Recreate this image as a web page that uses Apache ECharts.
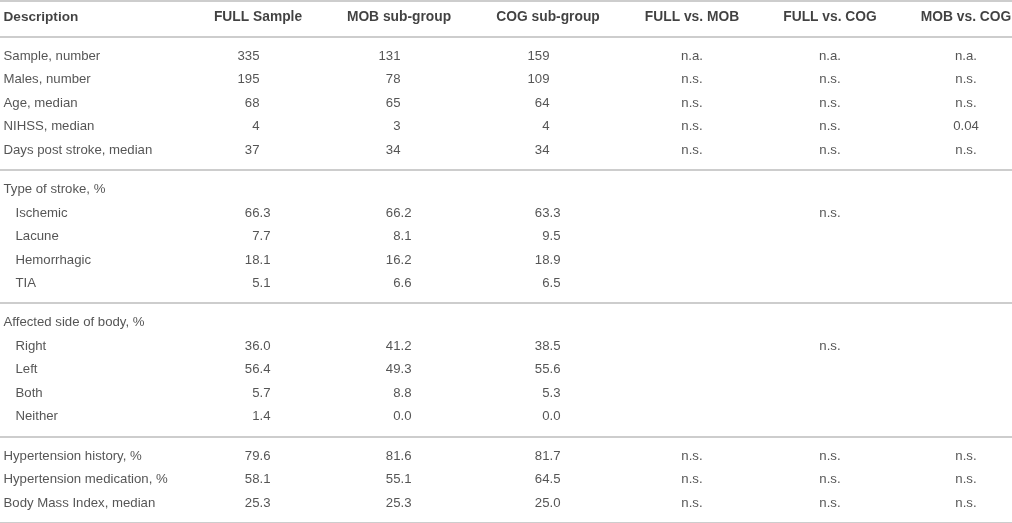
<!DOCTYPE html>
<html>
<head>
<meta charset="utf-8">
<title>Sample characteristics</title>
<script src="https://cdn.jsdelivr.net/npm/echarts@6/dist/echarts.min.js"></script>
<style>
  html, body { margin: 0; padding: 0; background: #fff; }
  #table { width: 1012px; height: 523px; }
</style>
</head>
<body>
<div id="table"></div>
<script>
// table content
const columnHeaders = ['Description', 'FULL Sample', 'MOB sub-group', 'COG sub-group', 'FULL vs. MOB', 'FULL vs. COG', 'MOB vs. COG'];
const rowLabels = [
  'Sample, number', 'Males, number', 'Age, median', 'NIHSS, median', 'Days post stroke, median',
  'Type of stroke, %', 'Ischemic', 'Lacune', 'Hemorrhagic', 'TIA',
  'Affected side of body, %', 'Right', 'Left', 'Both', 'Neither',
  'Hypertension history, %', 'Hypertension medication, %', 'Body Mass Index, median'
];
const rowSection = [0, 0, 0, 0, 0, 1, 1, 1, 1, 1, 2, 2, 2, 2, 2, 3, 3, 3];
const subRows = ['Ischemic', 'Lacune', 'Hemorrhagic', 'TIA', 'Right', 'Left', 'Both', 'Neither'];

const fullSample = ['335', '195', '68', '4', '37', '', '66.3', '7.7', '18.1', '5.1', '', '36.0', '56.4', '5.7', '1.4', '79.6', '58.1', '25.3'];
const mobGroup   = ['131', '78', '65', '3', '34', '', '66.2', '8.1', '16.2', '6.6', '', '41.2', '49.3', '8.8', '0.0', '81.6', '55.1', '25.3'];
const cogGroup   = ['159', '109', '64', '4', '34', '', '63.3', '9.5', '18.9', '6.5', '', '38.5', '55.6', '5.3', '0.0', '81.7', '64.5', '25.0'];
const fullVsMob  = ['n.a.', 'n.s.', 'n.s.', 'n.s.', 'n.s.', '', '', '', '', '', '', '', '', '', '', 'n.s.', 'n.s.', 'n.s.'];
const fullVsCog  = ['n.a.', 'n.s.', 'n.s.', 'n.s.', 'n.s.', '', 'n.s.', '', '', '', '', 'n.s.', '', '', '', 'n.s.', 'n.s.', 'n.s.'];
const mobVsCog   = ['n.a.', 'n.s.', 'n.s.', '0.04', 'n.s.', '', '', '', '', '', '', '', '', '', '', 'n.s.', 'n.s.', 'n.s.'];

// layout
const FONT = '"Liberation Sans", Helvetica, Arial, sans-serif';
const TEXT = '#2b2b2b';
const HEAD = '#111';
const RULE = '#bcbcbc';
const GAP = 0.68;                 // extra space between sections, in rows
const DESC_X = 3, INDENT_X = 15;
const colX = [258, 399, 548, 692, 830, 966];
const DEC_SHIFT = 13;             // numbers are aligned on the decimal point

const rowPos = rowLabels.map((_, i) => i + 1 + (rowSection[i] + 1) * GAP);
const rules = [-GAP, (1 + GAP) / 2];
for (let i = 1; i < rowLabels.length; i++) {
  if (rowSection[i] !== rowSection[i - 1]) rules.push((rowPos[i] + rowPos[i - 1]) / 2);
}
rules.push(rowPos[rowPos.length - 1] + (1 + GAP) / 2);

const chart = echarts.init(document.getElementById('table'));

function textSeries(name, data, label, extra) {
  return Object.assign({
    name: name,
    type: 'scatter',
    symbolSize: 1,
    itemStyle: { color: 'transparent' },
    silent: true,
    data: data,
    label: Object.assign({
      show: true,
      formatter: p => p.data[2],
      fontFamily: FONT,
      fontSize: 13.2,
      color: TEXT,
      distance: 0
    }, label)
  }, extra || {});
}

function cells(values, x) {
  return values.map((v, i) => [x, rowPos[i], v]).filter(d => d[2] !== '');
}

const series = [];

// header row
series.push(textSeries('header-desc', [[DESC_X, 0, columnHeaders[0]]],
  { position: 'right', fontWeight: 'bold', fontSize: 13.6, color: HEAD }));
series.push(textSeries('header-cols', colX.map((x, i) => [x, 0, columnHeaders[i + 1]]),
  { position: 'inside', fontWeight: 'bold', fontSize: 13.8, color: HEAD }));

// description column, with the horizontal rules
series.push(textSeries('desc',
  rowLabels.map((t, i) => [subRows.includes(t) ? INDENT_X : DESC_X, rowPos[i], t]),
  { position: 'right' },
  {
    markLine: {
      silent: true,
      symbol: 'none',
      label: { show: false },
      lineStyle: { color: RULE, width: 1.5, type: 'solid' },
      data: rules.map(r => ({ yAxis: r }))
    }
  }));

// numeric columns, decimal aligned
[fullSample, mobGroup, cogGroup].forEach((vals, c) => {
  series.push(textSeries(columnHeaders[c + 1], cells(vals, colX[c] + DEC_SHIFT), {
    position: 'left',
    formatter: p => '{v|' + p.data[2] + '}' + (p.data[2].indexOf('.') < 0 ? '{pad|.0}' : ''),
    rich: {
      v: { fontFamily: FONT, fontSize: 13.2, color: TEXT },
      pad: { fontFamily: FONT, fontSize: 13.2, color: 'transparent' }
    }
  }));
});

// comparison columns, centred
[fullVsMob, fullVsCog, mobVsCog].forEach((vals, c) => {
  series.push(textSeries(columnHeaders[c + 4], cells(vals, colX[c + 3]), { position: 'inside' }));
});

const unit = 23.45;
const yMin = -17 / unit;

chart.setOption({
  animation: false,
  grid: { left: 0, right: 0, top: 0, bottom: 0 },
  xAxis: { type: 'value', min: 0, max: 1012, show: false },
  yAxis: { type: 'value', inverse: true, min: yMin, max: yMin + 523 / unit, show: false },
  series: series
});
window.addEventListener('resize', () => chart.resize());
</script>
</body>
</html>
